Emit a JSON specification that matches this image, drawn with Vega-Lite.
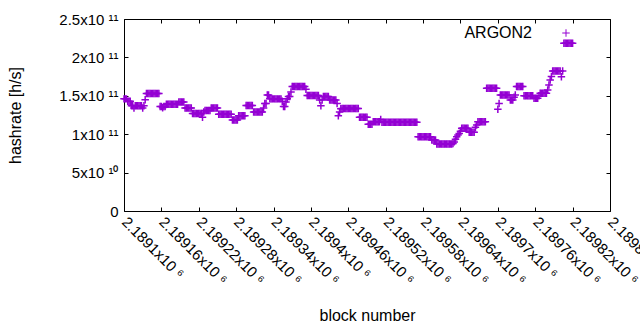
{
"$schema": "https://vega.github.io/schema/vega-lite/v6.json",
"width": 486, "height": 192,
"autosize": {"type": "none"},
"padding": {"left": 124, "top": 19, "right": 30, "bottom": 119},
"config": {
 "view": {"stroke": "#000", "strokeWidth": 1},
 "font": "Liberation Sans",
 "axis": {"grid": false, "domain": false, "tickColor": "#000", "tickSize": -4, "labelColor": "#000", "titleColor": "#000", "labelFont": "Liberation Sans", "titleFont": "Liberation Sans", "labelFontSize": 15, "titleFontSize": 16, "titleFontWeight": "normal"}
},
"data": {"values": [
{"b":2189100,"h":1.46e11},{"b":2189102,"h":1.46e11},{"b":2189104,"h":1.46e11},{"b":2189106,"h":1.43e11},{"b":2189108,"h":1.43e11},{"b":2189110,"h":1.43e11},{"b":2189112,"h":1.37e11},{"b":2189114,"h":1.37e11},{"b":2189116,"h":1.34e11},{"b":2189118,"h":1.37e11},
{"b":2189120,"h":1.37e11},{"b":2189122,"h":1.37e11},{"b":2189124,"h":1.37e11},{"b":2189126,"h":1.37e11},{"b":2189128,"h":1.37e11},{"b":2189130,"h":1.34e11},{"b":2189132,"h":1.37e11},{"b":2189134,"h":1.45e11},{"b":2189136,"h":1.53e11},{"b":2189138,"h":1.53e11},
{"b":2189140,"h":1.53e11},{"b":2189142,"h":1.53e11},{"b":2189144,"h":1.53e11},{"b":2189146,"h":1.53e11},{"b":2189148,"h":1.53e11},{"b":2189150,"h":1.53e11},{"b":2189152,"h":1.53e11},{"b":2189154,"h":1.53e11},{"b":2189156,"h":1.53e11},{"b":2189158,"h":1.36e11},
{"b":2189160,"h":1.36e11},{"b":2189162,"h":1.345e11},{"b":2189164,"h":1.36e11},{"b":2189166,"h":1.36e11},{"b":2189168,"h":1.39e11},{"b":2189170,"h":1.39e11},{"b":2189172,"h":1.39e11},{"b":2189174,"h":1.39e11},{"b":2189176,"h":1.39e11},{"b":2189178,"h":1.39e11},
{"b":2189180,"h":1.39e11},{"b":2189182,"h":1.39e11},{"b":2189184,"h":1.39e11},{"b":2189186,"h":1.39e11},{"b":2189188,"h":1.42e11},{"b":2189190,"h":1.42e11},{"b":2189192,"h":1.42e11},{"b":2189194,"h":1.42e11},{"b":2189196,"h":1.42e11},{"b":2189198,"h":1.34e11},
{"b":2189200,"h":1.34e11},{"b":2189202,"h":1.34e11},{"b":2189204,"h":1.34e11},{"b":2189206,"h":1.34e11},{"b":2189208,"h":1.34e11},{"b":2189210,"h":1.27e11},{"b":2189212,"h":1.27e11},{"b":2189214,"h":1.27e11},{"b":2189216,"h":1.27e11},{"b":2189218,"h":1.27e11},
{"b":2189220,"h":1.27e11},{"b":2189222,"h":1.27e11},{"b":2189224,"h":1.27e11},{"b":2189226,"h":1.22e11},{"b":2189228,"h":1.29e11},{"b":2189230,"h":1.31e11},{"b":2189232,"h":1.31e11},{"b":2189234,"h":1.31e11},{"b":2189236,"h":1.31e11},{"b":2189238,"h":1.31e11},
{"b":2189240,"h":1.34e11},{"b":2189242,"h":1.34e11},{"b":2189244,"h":1.34e11},{"b":2189246,"h":1.34e11},{"b":2189248,"h":1.34e11},{"b":2189250,"h":1.34e11},{"b":2189252,"h":1.26e11},{"b":2189254,"h":1.26e11},{"b":2189256,"h":1.26e11},{"b":2189258,"h":1.26e11},
{"b":2189260,"h":1.26e11},{"b":2189262,"h":1.26e11},{"b":2189264,"h":1.26e11},{"b":2189266,"h":1.26e11},{"b":2189268,"h":1.26e11},{"b":2189270,"h":1.26e11},{"b":2189272,"h":1.26e11},{"b":2189274,"h":1.185e11},{"b":2189276,"h":1.185e11},{"b":2189278,"h":1.185e11},
{"b":2189280,"h":1.185e11},{"b":2189282,"h":1.185e11},{"b":2189284,"h":1.24e11},{"b":2189286,"h":1.24e11},{"b":2189288,"h":1.24e11},{"b":2189290,"h":1.24e11},{"b":2189292,"h":1.24e11},{"b":2189294,"h":1.24e11},{"b":2189296,"h":1.375e11},{"b":2189298,"h":1.375e11},
{"b":2189300,"h":1.375e11},{"b":2189302,"h":1.375e11},{"b":2189304,"h":1.375e11},{"b":2189306,"h":1.375e11},{"b":2189308,"h":1.29e11},{"b":2189310,"h":1.29e11},{"b":2189312,"h":1.29e11},{"b":2189314,"h":1.29e11},{"b":2189316,"h":1.29e11},{"b":2189318,"h":1.29e11},
{"b":2189320,"h":1.29e11},{"b":2189322,"h":1.29e11},{"b":2189324,"h":1.34e11},{"b":2189326,"h":1.40e11},{"b":2189328,"h":1.40e11},{"b":2189330,"h":1.51e11},{"b":2189332,"h":1.51e11},{"b":2189334,"h":1.46e11},{"b":2189336,"h":1.46e11},{"b":2189338,"h":1.46e11},
{"b":2189340,"h":1.46e11},{"b":2189342,"h":1.46e11},{"b":2189344,"h":1.46e11},{"b":2189346,"h":1.46e11},{"b":2189348,"h":1.46e11},{"b":2189350,"h":1.46e11},{"b":2189352,"h":1.46e11},{"b":2189354,"h":1.43e11},{"b":2189356,"h":1.36e11},{"b":2189358,"h":1.36e11},
{"b":2189360,"h":1.42e11},{"b":2189362,"h":1.46e11},{"b":2189364,"h":1.49e11},{"b":2189366,"h":1.49e11},{"b":2189368,"h":1.55e11},{"b":2189370,"h":1.62e11},{"b":2189372,"h":1.62e11},{"b":2189374,"h":1.62e11},{"b":2189376,"h":1.62e11},{"b":2189378,"h":1.62e11},
{"b":2189380,"h":1.62e11},{"b":2189382,"h":1.62e11},{"b":2189384,"h":1.62e11},{"b":2189386,"h":1.62e11},{"b":2189388,"h":1.62e11},{"b":2189390,"h":1.62e11},{"b":2189392,"h":1.585e11},{"b":2189394,"h":1.505e11},{"b":2189396,"h":1.505e11},{"b":2189398,"h":1.505e11},
{"b":2189400,"h":1.505e11},{"b":2189402,"h":1.505e11},{"b":2189404,"h":1.505e11},{"b":2189406,"h":1.505e11},{"b":2189408,"h":1.505e11},{"b":2189410,"h":1.505e11},{"b":2189412,"h":1.505e11},{"b":2189414,"h":1.445e11},{"b":2189416,"h":1.37e11},{"b":2189418,"h":1.445e11},
{"b":2189420,"h":1.49e11},{"b":2189422,"h":1.49e11},{"b":2189424,"h":1.49e11},{"b":2189426,"h":1.49e11},{"b":2189428,"h":1.49e11},{"b":2189430,"h":1.445e11},{"b":2189432,"h":1.445e11},{"b":2189434,"h":1.445e11},{"b":2189436,"h":1.445e11},{"b":2189438,"h":1.445e11},
{"b":2189440,"h":1.445e11},{"b":2189442,"h":1.40e11},{"b":2189444,"h":1.24e11},{"b":2189446,"h":1.29e11},{"b":2189448,"h":1.33e11},{"b":2189450,"h":1.335e11},{"b":2189452,"h":1.335e11},{"b":2189454,"h":1.335e11},{"b":2189456,"h":1.335e11},{"b":2189458,"h":1.335e11},
{"b":2189460,"h":1.335e11},{"b":2189462,"h":1.335e11},{"b":2189464,"h":1.335e11},{"b":2189466,"h":1.335e11},{"b":2189468,"h":1.335e11},{"b":2189470,"h":1.335e11},{"b":2189472,"h":1.335e11},{"b":2189474,"h":1.335e11},{"b":2189476,"h":1.335e11},{"b":2189478,"h":1.22e11},
{"b":2189480,"h":1.22e11},{"b":2189482,"h":1.22e11},{"b":2189484,"h":1.22e11},{"b":2189486,"h":1.22e11},{"b":2189488,"h":1.22e11},{"b":2189490,"h":1.22e11},{"b":2189492,"h":1.13e11},{"b":2189494,"h":1.13e11},{"b":2189496,"h":1.13e11},{"b":2189498,"h":1.13e11},
{"b":2189500,"h":1.163e11},{"b":2189502,"h":1.163e11},{"b":2189504,"h":1.163e11},{"b":2189506,"h":1.163e11},{"b":2189508,"h":1.163e11},{"b":2189510,"h":1.163e11},{"b":2189512,"h":1.19e11},{"b":2189514,"h":1.155e11},{"b":2189516,"h":1.155e11},{"b":2189518,"h":1.155e11},
{"b":2189520,"h":1.155e11},{"b":2189522,"h":1.155e11},{"b":2189524,"h":1.155e11},{"b":2189526,"h":1.155e11},{"b":2189528,"h":1.155e11},{"b":2189530,"h":1.155e11},{"b":2189532,"h":1.155e11},{"b":2189534,"h":1.155e11},{"b":2189536,"h":1.155e11},{"b":2189538,"h":1.155e11},
{"b":2189540,"h":1.155e11},{"b":2189542,"h":1.155e11},{"b":2189544,"h":1.155e11},{"b":2189546,"h":1.155e11},{"b":2189548,"h":1.155e11},{"b":2189550,"h":1.155e11},{"b":2189552,"h":1.155e11},{"b":2189554,"h":1.155e11},{"b":2189556,"h":1.155e11},{"b":2189558,"h":1.155e11},
{"b":2189560,"h":1.155e11},{"b":2189562,"h":1.155e11},{"b":2189564,"h":1.155e11},{"b":2189566,"h":1.155e11},{"b":2189568,"h":1.155e11},{"b":2189570,"h":1.155e11},{"b":2189572,"h":0.968e11},{"b":2189574,"h":0.968e11},{"b":2189576,"h":0.968e11},{"b":2189578,"h":0.968e11},
{"b":2189580,"h":0.968e11},{"b":2189582,"h":0.968e11},{"b":2189584,"h":0.968e11},{"b":2189586,"h":0.968e11},{"b":2189588,"h":0.968e11},{"b":2189590,"h":0.968e11},{"b":2189592,"h":0.968e11},{"b":2189594,"h":0.925e11},{"b":2189596,"h":0.925e11},{"b":2189598,"h":0.925e11},
{"b":2189600,"h":0.925e11},{"b":2189602,"h":0.872e11},{"b":2189604,"h":0.872e11},{"b":2189606,"h":0.872e11},{"b":2189608,"h":0.872e11},{"b":2189610,"h":0.872e11},{"b":2189612,"h":0.872e11},{"b":2189614,"h":0.872e11},{"b":2189616,"h":0.872e11},{"b":2189618,"h":0.872e11},
{"b":2189620,"h":0.872e11},{"b":2189622,"h":0.872e11},{"b":2189624,"h":0.872e11},{"b":2189626,"h":0.872e11},{"b":2189628,"h":0.88e11},{"b":2189630,"h":0.90e11},{"b":2189632,"h":0.935e11},{"b":2189634,"h":0.968e11},{"b":2189636,"h":0.99e11},{"b":2189638,"h":1.01e11},
{"b":2189640,"h":1.04e11},{"b":2189642,"h":1.076e11},{"b":2189644,"h":1.076e11},{"b":2189646,"h":1.076e11},{"b":2189648,"h":1.076e11},{"b":2189650,"h":1.076e11},{"b":2189652,"h":1.076e11},{"b":2189654,"h":1.024e11},{"b":2189656,"h":1.024e11},{"b":2189658,"h":1.024e11},
{"b":2189660,"h":1.024e11},{"b":2189662,"h":1.024e11},{"b":2189664,"h":1.09e11},{"b":2189666,"h":1.12e11},{"b":2189668,"h":1.163e11},{"b":2189670,"h":1.163e11},{"b":2189672,"h":1.163e11},{"b":2189674,"h":1.163e11},{"b":2189676,"h":1.163e11},{"b":2189678,"h":1.163e11},
{"b":2189680,"h":1.163e11},{"b":2189682,"h":1.597e11},{"b":2189684,"h":1.597e11},{"b":2189686,"h":1.597e11},{"b":2189688,"h":1.597e11},{"b":2189690,"h":1.597e11},{"b":2189692,"h":1.597e11},{"b":2189694,"h":1.597e11},{"b":2189696,"h":1.597e11},{"b":2189698,"h":1.597e11},
{"b":2189700,"h":1.324e11},{"b":2189702,"h":1.40e11},{"b":2189704,"h":1.51e11},{"b":2189706,"h":1.51e11},{"b":2189708,"h":1.51e11},{"b":2189710,"h":1.51e11},{"b":2189712,"h":1.51e11},{"b":2189714,"h":1.51e11},{"b":2189716,"h":1.51e11},{"b":2189718,"h":1.51e11},
{"b":2189720,"h":1.445e11},{"b":2189722,"h":1.445e11},{"b":2189724,"h":1.445e11},{"b":2189726,"h":1.48e11},{"b":2189728,"h":1.51e11},{"b":2189730,"h":1.62e11},{"b":2189732,"h":1.62e11},{"b":2189734,"h":1.62e11},{"b":2189736,"h":1.62e11},{"b":2189738,"h":1.62e11},
{"b":2189740,"h":1.62e11},{"b":2189742,"h":1.50e11},{"b":2189744,"h":1.50e11},{"b":2189746,"h":1.50e11},{"b":2189748,"h":1.50e11},{"b":2189750,"h":1.50e11},{"b":2189752,"h":1.50e11},{"b":2189754,"h":1.50e11},{"b":2189756,"h":1.50e11},{"b":2189758,"h":1.467e11},
{"b":2189760,"h":1.467e11},{"b":2189762,"h":1.467e11},{"b":2189764,"h":1.467e11},{"b":2189766,"h":1.50e11},{"b":2189768,"h":1.532e11},{"b":2189770,"h":1.532e11},{"b":2189772,"h":1.532e11},{"b":2189774,"h":1.532e11},{"b":2189776,"h":1.532e11},{"b":2189778,"h":1.532e11},
{"b":2189780,"h":1.576e11},{"b":2189782,"h":1.64e11},{"b":2189784,"h":1.706e11},{"b":2189786,"h":1.75e11},{"b":2189788,"h":1.823e11},{"b":2189790,"h":1.823e11},{"b":2189792,"h":1.823e11},{"b":2189794,"h":1.823e11},{"b":2189796,"h":1.823e11},{"b":2189798,"h":1.823e11},
{"b":2189800,"h":1.823e11},{"b":2189802,"h":1.749e11},{"b":2189804,"h":1.823e11},{"b":2189806,"h":2.183e11},{"b":2189808,"h":2.183e11},{"b":2189810,"h":2.183e11},{"b":2189812,"h":2.183e11},{"b":2189814,"h":2.183e11},{"b":2189816,"h":2.183e11},{"b":2189818,"h":2.183e11},
{"b":2189820,"h":2.183e11}
]},
"layer": [
 {
  "mark": {"type": "point", "shape": "M-1,0H1M0,-1V1", "filled": false, "strokeWidth": 1.5, "size": 56, "opacity": 1},
  "encoding": {
   "x": {"field": "b", "type": "quantitative", "scale": {"domain": [2189100, 2189880], "nice": false, "zero": false},
    "axis": {"orient": "bottom", "title": "block number", "values": [2189100,2189160,2189220,2189280,2189340,2189400,2189460,2189520,2189580,2189640,2189700,2189760,2189820,2189880],
     "labelExpr": "format(datum.value/1e6, '.6~g') + 'x10 ⁶'", "labelAngle": 45, "labelAlign": "left", "labelBaseline": "middle", "labelPadding": 12, "labelFlush": false, "labelOverlap": false, "titlePadding": 20}},
   "y": {"field": "h", "type": "quantitative", "scale": {"domain": [0, 2.5e11], "nice": false, "zero": true},
    "axis": {"orient": "left", "title": "hashrate [h/s]", "values": [0, 5e10, 1e11, 1.5e11, 2e11, 2.5e11],
     "labelExpr": "datum.value == 0 ? '0' : (datum.value < 1e11 ? format(datum.value/1e10, '~g') + 'x10 ¹⁰' : format(datum.value/1e11, '~g') + 'x10 ¹¹')", "labelPadding": 10, "labelFlush": false, "labelOverlap": false, "titlePadding": 35}},
   "color": {"datum": "ARGON2", "scale": {"range": ["#9400d3"]},
    "legend": {"orient": "none", "legendX": 434, "legendY": 6, "title": null, "padding": 0, "labelFont": "Liberation Sans", "labelFontSize": 16, "labelColor": "#000", "labelAlign": "right", "labelOffset": -42, "symbolType": "M-1,0H1M0,-1V1", "symbolSize": 56, "symbolStrokeWidth": 1, "symbolFillColor": "transparent", "symbolStrokeColor": "#9400d3"}}
  }
 },
 {
  "mark": {"type": "point", "opacity": 0},
  "encoding": {
   "x": {"field": "b", "type": "quantitative", "axis": {"orient": "top", "labels": false, "title": null, "values": [2189100,2189160,2189220,2189280,2189340,2189400,2189460,2189520,2189580,2189640,2189700,2189760,2189820,2189880]}},
   "y": {"field": "h", "type": "quantitative", "axis": {"orient": "right", "labels": false, "title": null, "values": [0, 5e10, 1e11, 1.5e11, 2e11, 2.5e11]}}
  }
 }
],
"resolve": {"axis": {"x": "independent", "y": "independent"}}
}
